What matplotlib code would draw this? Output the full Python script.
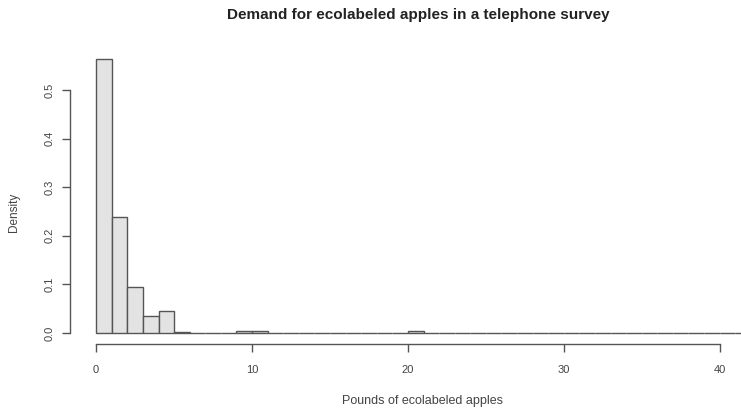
import numpy as np
import matplotlib
matplotlib.use("Agg")
import matplotlib.pyplot as plt

plt.rcParams['font.family'] = ['Liberation Sans', 'DejaVu Sans']

# histogram bins of width 1 lb, densities
bin_edges = list(range(0, 43))
density = [0.564, 0.239, 0.095, 0.034, 0.045, 0.002, 0.001, 0.001, 0.0005, 0.004,
           0.004, 0.0005, 0.0005, 0.0005, 0.0, 0.0005, 0.0, 0.0005, 0.0, 0.0005,
           0.004, 0.0, 0.0, 0.0, 0.0, 0.0, 0.0, 0.0, 0.0, 0.0,
           0.0, 0.0, 0.0, 0.0, 0.0, 0.0, 0.0, 0.0, 0.0, 0.0,
           0.001, 0.0]
x_ticks = [0, 10, 20, 30, 40]
y_ticks = [0.0, 0.1, 0.2, 0.3, 0.4, 0.5]

title = "Demand for ecolabeled apples in a telephone survey"
x_label = "Pounds of ecolabeled apples"
y_label = "Density"

ink = "#444444"

fig = plt.figure(figsize=(7.41, 4.09), dpi=100)
# plot region like R's (extends past the right side of the crop)
ax = fig.add_axes([70 / 741, 65 / 409, (777 - 70) / 741, (361.3 - 65) / 409])

lefts = bin_edges[:-1]
ax.bar(lefts, density, width=1.0, align='edge', color='#e3e3e3',
       edgecolor='#555555', linewidth=1.0)

ax.set_xlim(-1.68, 43.68)
ax.set_ylim(-0.0226, 0.587)

for s in ['top', 'right']:
    ax.spines[s].set_visible(False)
ax.spines['left'].set_bounds(0, 0.5)
ax.spines['bottom'].set_bounds(0, 40)
for s in ['left', 'bottom']:
    ax.spines[s].set_color('#555555')
    ax.spines[s].set_linewidth(1.0)

ax.set_xticks(x_ticks)
ax.set_xticklabels([str(v) for v in x_ticks])
ax.set_yticks(y_ticks)
ax.set_yticklabels([f"{v:.1f}" for v in y_ticks], rotation=90, va='center')
ax.tick_params(axis='both', direction='out', length=6, width=1.0, color='#555555',
               labelsize=8, labelcolor=ink)
ax.tick_params(axis='x', pad=9)
ax.tick_params(axis='y', pad=5)

fig.text(418 / 741, 1 - 15.5 / 409, title, ha='center', va='center',
         fontsize=11, fontweight='bold', color='#222222')
fig.text(422 / 741, 1 - 401 / 409, x_label, ha='center', va='center',
         fontsize=9, color=ink)
fig.text(14 / 741, 1 - 212 / 409, y_label, ha='center', va='center',
         fontsize=8.5, color=ink, rotation=90)

fig.savefig("out.png", dpi=100)
